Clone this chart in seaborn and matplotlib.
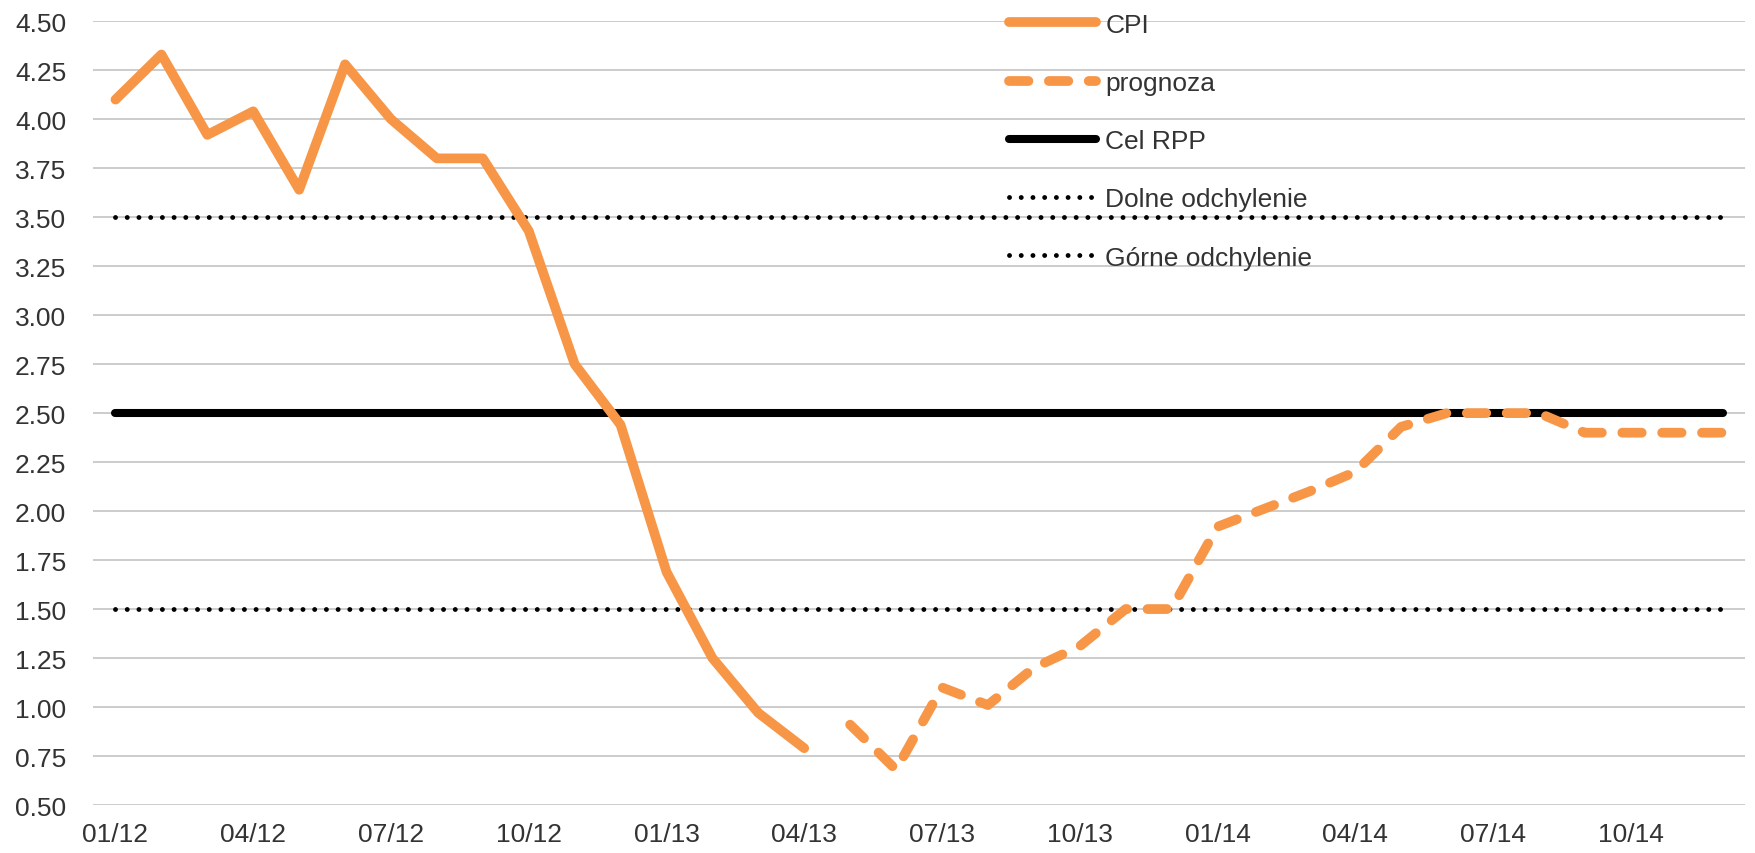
import numpy as np
import seaborn as sns
import matplotlib.pyplot as plt
from matplotlib.lines import Line2D

# month labels 01/12 .. 12/14
MONTHS = [f"{m:02d}/{y}" for y in (12, 13, 14) for m in range(1, 13)]

# CPI, 01/12 - 04/13
CPI = [4.10, 4.33, 3.92, 4.04, 3.64, 4.28, 4.00, 3.80, 3.80, 3.43, 2.75, 2.44,
       1.69, 1.25, 0.97, 0.79]

# forecast, 05/13 - 12/14
PROGNOZA = [0.91, 0.68, 1.10, 1.01, 1.20, 1.31, 1.50, 1.50, 1.92, 2.01, 2.10, 2.20,
            2.43, 2.50, 2.50, 2.50, 2.40, 2.40, 2.40, 2.40]

CEL_RPP = 2.5
DOLNE = 1.5
GORNE = 3.5

ORANGE = "#F79646"
DOTS = (0, (0.01, 2.4))
DASHES = (0, (2.0, 2.1))

sns.set_style("white")
plt.rcParams["font.family"] = ["Liberation Sans", "DejaVu Sans"]

fig = plt.figure(figsize=(17.56, 8.54), dpi=100)
ax = fig.add_axes([0.0527, 0.0562, 0.9413, 0.9178])

n = len(MONTHS)
x_all = np.arange(n)
x_cpi = x_all[:len(CPI)]
x_prog = x_all[len(CPI):len(CPI) + len(PROGNOZA)]

# horizontal grid
for v in np.arange(0.5, 4.51, 0.25):
  ax.axhline(v, color="#c8c8c8", lw=1.3, zorder=0)

sns.lineplot(x=x_all, y=[GORNE] * n, ax=ax, color="black", lw=3.5,
             linestyle=DOTS, dash_capstyle="round", zorder=2)
sns.lineplot(x=x_all, y=[DOLNE] * n, ax=ax, color="black", lw=3.5,
             linestyle=DOTS, dash_capstyle="round", zorder=2)
sns.lineplot(x=x_all, y=[CEL_RPP] * n, ax=ax, color="black", lw=5.8,
             solid_capstyle="round", zorder=3)
sns.lineplot(x=x_cpi, y=CPI, ax=ax, color=ORANGE, lw=7.0,
             solid_capstyle="round", solid_joinstyle="round", zorder=4)
sns.lineplot(x=x_prog, y=PROGNOZA, ax=ax, color=ORANGE, lw=7.0,
             linestyle=DASHES, dash_capstyle="round", zorder=4)

ax.set_xlim(-0.5, n - 0.5)
ax.set_ylim(0.5, 4.5)
ax.set_yticks(np.arange(0.5, 4.51, 0.25))
ax.set_yticklabels([f"{v:.2f}" for v in np.arange(0.5, 4.51, 0.25)])
ax.set_xticks(x_all[::3])
ax.set_xticklabels(MONTHS[::3])
ax.tick_params(axis="both", length=0, labelsize=19, colors="#333333")
ax.tick_params(axis="y", pad=19)
ax.tick_params(axis="x", pad=12)
for s in ax.spines.values():
  s.set_visible(False)
ax.set_xlabel("")
ax.set_ylabel("")

handles = [
  Line2D([], [], color=ORANGE, lw=7.0, solid_capstyle="round"),
  Line2D([], [], color=ORANGE, lw=7.0, linestyle=DASHES, dash_capstyle="round"),
  Line2D([], [], color="black", lw=5.8, solid_capstyle="round"),
  Line2D([], [], color="black", lw=3.5, linestyle=DOTS, dash_capstyle="round"),
  Line2D([], [], color="black", lw=3.5, linestyle=DOTS, dash_capstyle="round"),
]
labels = ["CPI", "prognoza", "Cel RPP", "Dolne odchylenie", "G\u00f3rne odchylenie"]
leg = fig.legend(handles, labels, loc="upper left", bbox_to_anchor=(0.561, 1.012),
                 frameon=False, fontsize=19, handlelength=3.3, handletextpad=0.35,
                 labelspacing=1.3)
for t in leg.get_texts():
  t.set_color("#333333")

plt.savefig("out.png", dpi=100)
